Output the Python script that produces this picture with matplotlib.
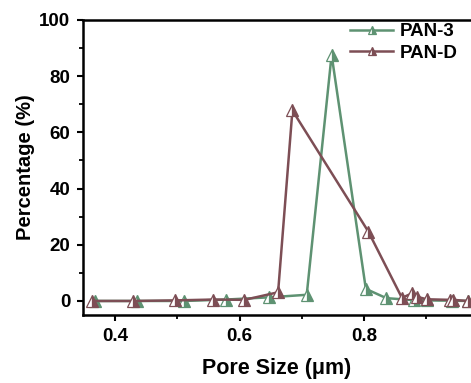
import matplotlib
matplotlib.use("Agg")
import matplotlib.pyplot as plt
from matplotlib.ticker import MultipleLocator
from matplotlib.font_manager import FontProperties

plt.rcParams['font.family'] = ['Liberation Sans', 'DejaVu Sans']
plt.rcParams['font.weight'] = 'bold'

pan3_x = [0.368, 0.436, 0.511, 0.578, 0.648, 0.708, 0.748, 0.803, 0.836, 0.880, 0.901, 0.941, 0.967]
pan3_y = [0.0, 0.0, 0.0, 0.5, 1.3, 2.2, 87.6, 4.3, 1.0, 0.3, 0.2, 0.1, 0.0]

pand_x = [0.363, 0.429, 0.496, 0.557, 0.608, 0.662, 0.685, 0.807, 0.861, 0.877, 0.885, 0.901, 0.938, 0.943, 0.967]
pand_y = [0.0, 0.0, 0.2, 0.5, 0.4, 3.1, 67.8, 24.7, 1.1, 2.7, 1.5, 0.6, 0.4, 0.4, 0.0]

green = '#5e9272'
brown = '#7d4e55'

fig = plt.figure(figsize=(4.71, 3.83), dpi=100)
ax = fig.add_axes([0.1756, 0.1775, 1.0 - 0.1756, 0.9478 - 0.1775])

ax.plot(pan3_x, pan3_y, color=green, lw=1.8, marker='^', markersize=8,
        fillstyle='right', markerfacecolor=green, markerfacecoloralt='white',
        markeredgecolor=green, markeredgewidth=0.9, label='PAN-3')
ax.plot(pand_x, pand_y, color=brown, lw=1.8, marker='^', markersize=8,
        fillstyle='right', markerfacecolor=brown, markerfacecoloralt='white',
        markeredgecolor=brown, markeredgewidth=0.9, label='PAN-D')

ax.set_xlim(0.348, 0.972)
ax.set_ylim(-5, 100)
ax.xaxis.set_minor_locator(MultipleLocator(0.1))
ax.yaxis.set_major_locator(MultipleLocator(20))
ax.yaxis.set_minor_locator(MultipleLocator(10))
ax.set_xticks([0.4, 0.6, 0.8])
ax.set_xticklabels(['0.4', '0.6', '0.8'])

for s in ['left', 'bottom', 'top']:
    ax.spines[s].set_linewidth(1.8)
ax.spines['right'].set_visible(False)
ax.tick_params(which='major', direction='out', length=4, width=1.5, labelsize=13.5, pad=5)
ax.tick_params(which='minor', direction='out', length=3, width=1.3)
ax.tick_params(axis='x', which='both', top=False)
for lab in ax.get_xticklabels() + ax.get_yticklabels():
    lab.set_fontweight('bold')

ax.set_xlabel('Pore Size (μm)', fontsize=15.5, fontweight='bold', labelpad=10)
ax.set_ylabel('Percentage (%)', fontsize=14.5, fontweight='bold', labelpad=3)

legfont = FontProperties(family='Liberation Sans', weight='bold', size=13.5)
leg = ax.legend(loc='upper left', bbox_to_anchor=(350/471, 1 - 23/383),
                bbox_transform=fig.transFigure, frameon=False, prop=legfont,
                handlelength=2.3, handletextpad=0.35, borderpad=0, borderaxespad=0,
                labelspacing=0.25, markerscale=0.75)

fig.savefig('out.png', dpi=100)
